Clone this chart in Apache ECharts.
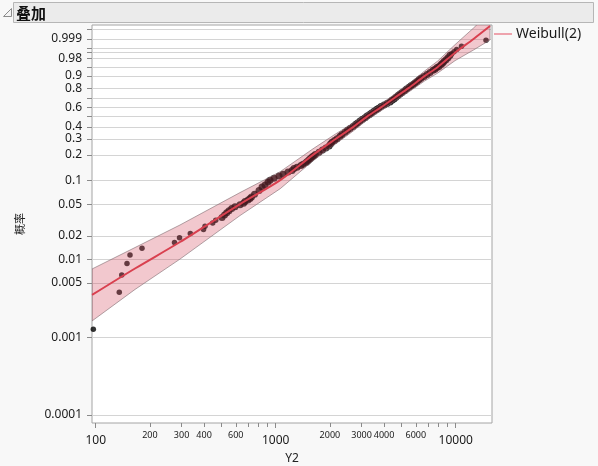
<!DOCTYPE html>
<html><head><meta charset="utf-8">
<script src="https://cdn.jsdelivr.net/npm/echarts@6/dist/echarts.min.js"></script>
<style>html,body{margin:0;padding:0;background:#f8f8f8}#c{width:598px;height:466px}</style>
</head><body><div id="c"></div>
<script>
// ---- texts ----
const titleText = '叠加';
const legendText = 'Weibull(2)';
const xName = 'Y2';
const yName = '概率';

// ---- axis ticks / labels ----
const xRange = [95.37, 15907];
const pRange = [0.0000789, 0.9999713];
const xMajorTicks = [100, 1000, 10000];
const xMinorTicks = [200, 300, 400, 500, 600, 700, 800, 900, 2000, 3000, 4000, 5000, 6000, 7000, 8000, 9000];
const xMinorLabels = [200, 300, 400, 600, 2000, 3000, 4000, 6000];
const yLabels = [0.0001, 0.001, 0.005, 0.01, 0.02, 0.05, 0.1, 0.2, 0.3, 0.4, 0.6, 0.8, 0.9, 0.98, 0.999];
const yExtraTicks = [0.5, 0.7, 0.95, 0.99, 0.995, 0.9999];

// ---- observed points (Y2 value, plotting probability) ----
const pointX = [97.0, 135.2, 139.5, 149.2, 155.1, 180.8, 274.0, 292.2, 335.4, 397.2, 404.9, 446.7, 464.2, 503.1, 519.5, 534.3, 550.2, 569.5, 594.1, 633.5, 662.5, 675.3, 701.7, 719.9, 733.8,
  762.5, 807.7, 839.3, 872.1, 906.2, 929.7,
  978.5, 1043, 1098, 1170, 1232, 1263, 1313, 1380, 1418, 1473, 1502, 1531, 1561, 1591, 1622, 1660,
  1740, 1820, 1900, 1978, 2016, 2055, 2122, 2191,
  2276, 2335, 2427, 2505, 2587, 2688, 2775, 2847, 2940, 3036, 3134, 3216,
  3320, 3406, 3517, 3631, 3725, 3846, 3996, 4153, 4315, 4427, 4542, 4659, 4780, 4904, 5031, 5194, 5329, 5502,
  5644, 5791, 5940, 6095, 6253, 6415, 6666, 6927, 7198, 7480, 7674, 7872, 8076, 8285, 8446, 8610, 8833, 9061, 9296, 9500, 9785, 10129, 10770, 14736];
const pointP = [0.00127, 0.0038, 0.0063, 0.0089, 0.0114, 0.0139, 0.0165, 0.0190, 0.0215, 0.0241, 0.0266, 0.0291, 0.0316, 0.0342, 0.0367, 0.0392, 0.0418, 0.0443, 0.0468, 0.0494, 0.0519, 0.0544, 0.0570, 0.0595, 0.0620,
  0.0671, 0.0747, 0.0823, 0.0873, 0.0949, 0.1000,
  0.1051, 0.1127, 0.1177, 0.1253, 0.1304, 0.1380, 0.1430, 0.1506, 0.1557, 0.1633, 0.1684, 0.1759, 0.1810, 0.1886, 0.1937, 0.2013,
  0.2139, 0.2266, 0.2392, 0.2519, 0.2646, 0.2772, 0.2899, 0.3025,
  0.3203, 0.3354, 0.3532, 0.3709, 0.3861, 0.4038, 0.4215, 0.4367, 0.4544, 0.4722, 0.4873, 0.5051,
  0.5228, 0.5380, 0.5557, 0.5734, 0.5886, 0.6063, 0.6241, 0.6392, 0.6570, 0.6747, 0.6899, 0.7076, 0.7253, 0.7405, 0.7582, 0.7759, 0.7911, 0.8089,
  0.8215, 0.8342, 0.8468, 0.8595, 0.8722, 0.8848, 0.8975, 0.9101, 0.9228, 0.9354, 0.9405, 0.9481, 0.9532, 0.9608, 0.9658, 0.9709, 0.9759, 0.9810, 0.9861, 0.9886, 0.9911, 0.9937, 0.9962, 0.9987];

// ---- fitted Weibull(2) curve and confidence band ----
const fitX = [95.4, 165.3, 293.9, 633.4, 1060, 1611, 2149, 2702, 3216, 3861, 4560, 5467, 6709, 7922, 9911, 12560, 15510];
const fitP = [0.0035, 0.00765, 0.0167, 0.0505, 0.1, 0.2, 0.3, 0.4, 0.5, 0.6, 0.7, 0.8, 0.9, 0.95, 0.99, 0.999, 0.99996];
const bandUpper = [0.00754, 0.01419, 0.0275, 0.0703, 0.1268, 0.2340, 0.3388, 0.4374, 0.5365, 0.6381, 0.7370, 0.8367, 0.9307, 0.9721, 0.99708, 0.99993, 0.9999998];
const bandLower = [0.00162, 0.00412, 0.0101, 0.0362, 0.0786, 0.1703, 0.2648, 0.3647, 0.4647, 0.5623, 0.6622, 0.7606, 0.8628, 0.9185, 0.9736, 0.99318, 0.99878];

// ---- scale transforms (log X, Weibull probability scale) ----
const lx = v => Math.log10(v);
const zp = p => Math.log(-Math.log(1 - p));

const FONT = "'Noto Sans', sans-serif";
const chart = echarts.init(document.getElementById('c'), null, {renderer: 'canvas'});

const xAxisCommon = {
  type: 'value', gridIndex: 0, position: 'bottom',
  min: lx(xRange[0]), max: lx(xRange[1]),
  axisLine: {show: false, onZero: false},
  splitLine: {show: false}
};

const option = {
  backgroundColor: '#f8f8f8',
  animation: false,
  grid: {left: 92, top: 25, width: 400, height: 398, containLabel: false, outerBoundsMode: 'none',
    show: true, backgroundColor: '#ffffff', borderColor: '#a4a4a4', borderWidth: 1},
  xAxis: [
    Object.assign({}, xAxisCommon, {
      name: xName, nameLocation: 'middle', nameGap: 30,
      nameTextStyle: {fontFamily: FONT, fontSize: 12, color: '#222'},
      axisTick: {show: true, length: 5, lineStyle: {color: '#8a8a8a'}, customValues: xMajorTicks.map(lx)},
      axisLabel: {show: true, margin: 12, fontFamily: FONT, fontSize: 12, color: '#1a1a1a',
        customValues: xMajorTicks.map(lx), formatter: v => String(Math.round(Math.pow(10, v)))}
    }),
    Object.assign({}, xAxisCommon, {
      axisTick: {show: true, length: 4, lineStyle: {color: '#8a8a8a'}, customValues: xMinorTicks.map(lx)},
      axisLabel: {show: true, margin: 8, fontFamily: FONT, fontSize: 9, color: '#1a1a1a',
        customValues: xMinorLabels.map(lx), formatter: v => String(Math.round(Math.pow(10, v)))}
    })
  ],
  yAxis: {
    type: 'value', min: zp(pRange[0]), max: zp(pRange[1]),
    name: yName, nameLocation: 'middle', nameGap: 67, nameRotate: 90,
    nameTextStyle: {fontFamily: "'Noto Sans CJK SC', sans-serif", fontSize: 11, color: '#222'},
    axisLine: {show: false, onZero: false},
    axisTick: {show: true, length: 5, lineStyle: {color: '#8a8a8a'}, customValues: yLabels.concat(yExtraTicks).map(zp)},
    axisLabel: {show: true, margin: 10, fontFamily: FONT, fontSize: 12, color: '#1a1a1a',
      customValues: yLabels.map(zp),
      formatter: v => { let best = yLabels[0]; yLabels.forEach(l => { if (Math.abs(zp(l) - v) < Math.abs(zp(best) - v)) best = l; }); return String(best); }},
    splitLine: {show: true, lineStyle: {color: '#d4d4d4', width: 1}}
  },
  series: [
    {
      type: 'scatter', name: 'points', xAxisIndex: 0, z: 2,
      symbol: 'circle',
      symbolSize: (val, params) => (params.dataIndex >= 13 && params.dataIndex <= 103) ? 7 : 5.5,
      itemStyle: {color: '#000000'},
      data: pointX.map((x, i) => [lx(x), zp(pointP[i])])
    },
    {
      type: 'custom', name: 'band', xAxisIndex: 0, z: 3, clip: true,
      data: [[lx(fitX[8]), zp(fitP[8])]],
      renderItem: (params, api) => {
        const up = fitX.map((x, i) => api.coord([lx(x), zp(bandUpper[i])]));
        const lo = fitX.map((x, i) => api.coord([lx(x), zp(bandLower[i])])).reverse();
        return {type: 'polygon', shape: {points: up.concat(lo), smooth: 0},
          style: {fill: 'rgba(214,78,96,0.31)', stroke: 'rgba(125,105,110,0.75)', lineWidth: 0.8}};
      }
    },
    {
      type: 'line', name: legendText, xAxisIndex: 0, z: 4,
      symbol: 'none', smooth: 0.3,
      lineStyle: {color: '#d9404f', width: 2},
      data: fitX.map((x, i) => [lx(x), zp(fitP[i])])
    }
  ],
  graphic: [
    {type: 'rect', shape: {x: 13.5, y: 2.5, width: 580, height: 20}, style: {fill: '#ebebeb', stroke: '#b6b6b6', lineWidth: 1}},
    {type: 'polygon', shape: {points: [[3.5, 16.5], [11.5, 16.5], [11.5, 8.5]]}, style: {fill: '#f4f4f4', stroke: '#8c8c8c', lineWidth: 1}},
    {type: 'text', x: 16, y: 13, style: {text: titleText, fill: '#111', font: "bold 15px 'Noto Sans CJK SC', sans-serif", verticalAlign: 'middle'}},
    {type: 'line', shape: {x1: 494, y1: 34, x2: 512, y2: 34}, style: {stroke: '#eea3ad', lineWidth: 2}},
    {type: 'text', x: 516, y: 34, style: {text: legendText, fill: '#1a1a1a', font: "14px 'Noto Sans', sans-serif", verticalAlign: 'middle'}}
  ]
};
chart.setOption(option);
</script>
</body></html>
